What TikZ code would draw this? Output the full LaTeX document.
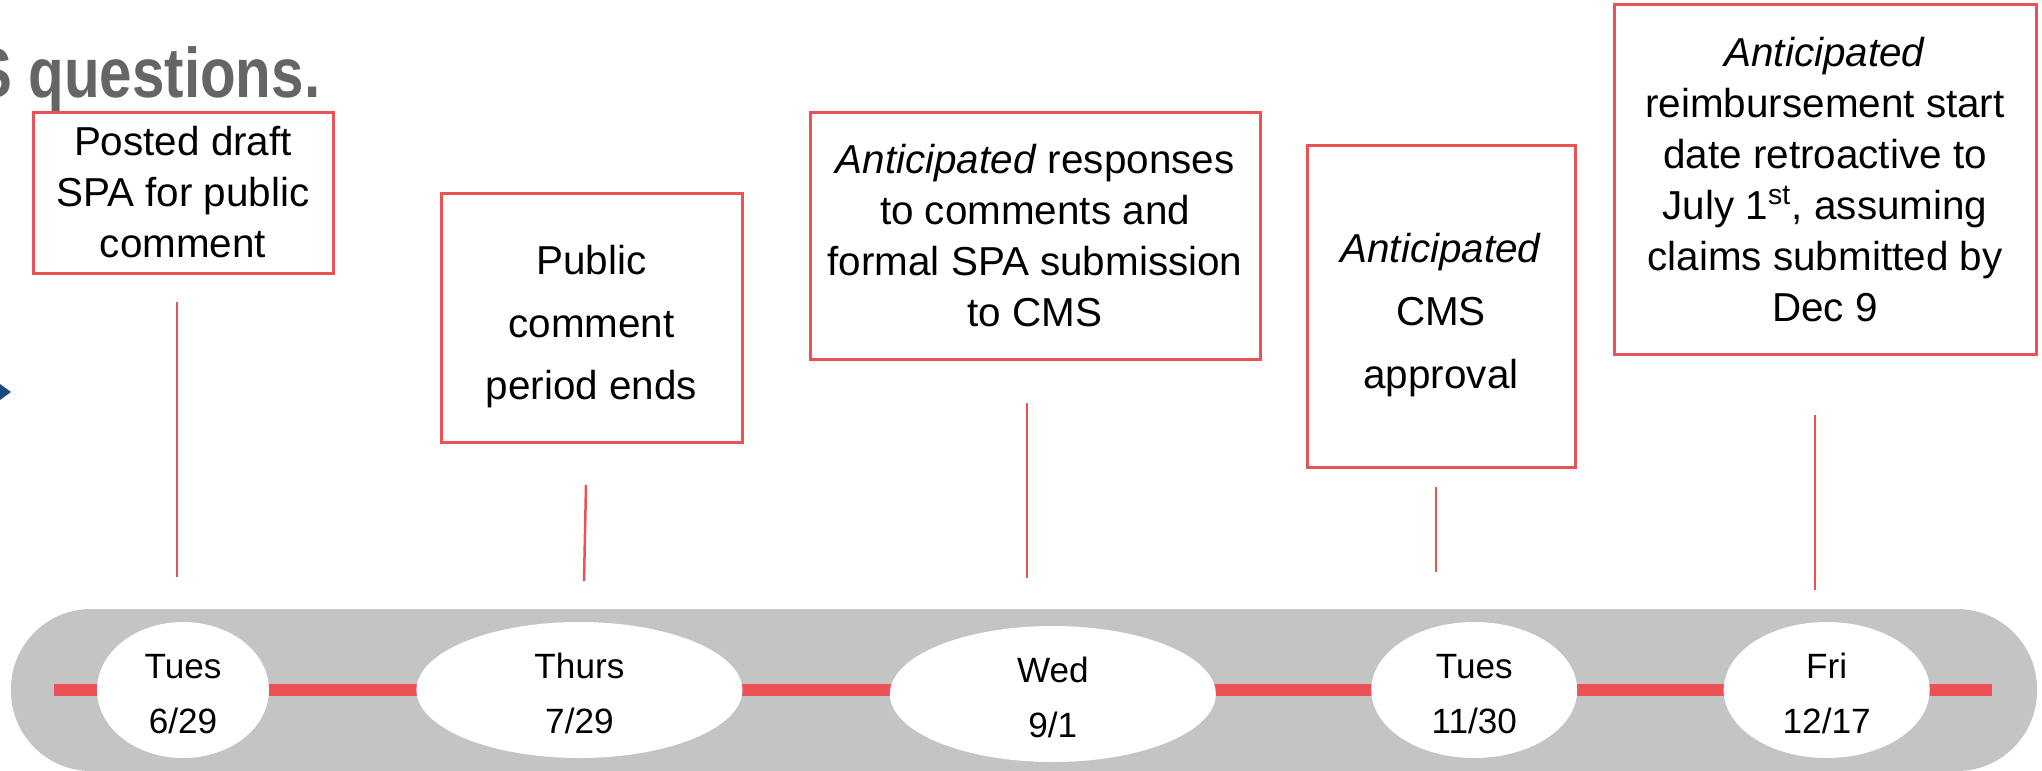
\documentclass[tikz,border=0pt]{standalone}
\usepackage{fontspec}
\setmainfont{Liberation Sans}
\newfontfamily\headfont[FakeStretch=0.83]{Liberation Sans}
\usetikzlibrary{positioning,shapes.geometric}
\definecolor{tlred}{RGB}{234,82,86}
\definecolor{tlgray}{RGB}{196,196,196}
\definecolor{headgray}{RGB}{101,101,101}
\definecolor{arrowblue}{RGB}{31,73,125}
\newcommand{\padtop}[1]{\rule{0pt}{#1}}
\tikzset{date node/.style={ellipse,fill=white,inner sep=0pt,minimum height=1.36cm,align=center,font=\fontsize{10}{15.6}\selectfont},
note node/.style={rectangle,draw=tlred,line width=0.03cm,fill=white,inner sep=0pt,align=center,font=\fontsize{11.5}{14.5}\selectfont},
wide lines/.style={font=\fontsize{11.5}{17.9}\selectfont},
tick line/.style={tlred,line width=0.025cm}}

\begin{document}
\begin{tikzpicture}[scale=1]
            \path[use as bounding box, clip] (0,0) rectangle (20.42,7.70);

            % cut-off heading and arrow tip from the slide
            \node[anchor=base east, inner sep=0pt, text=headgray, font=\headfont\bfseries\fontsize{20}{24}\selectfont] (H) at (3.21,6.73) {S questions.};
            \fill[arrowblue] (0,3.86) -- (0.11,3.78) -- (0,3.70) -- cycle;

            % band and red time line
            \fill[tlgray, rounded corners=0.8cm] (0.11,-0.01) rectangle (20.37,1.61);
            \coordinate (L) at (0.54,0.80);
            \coordinate (R) at (19.92,0.80);
            \draw[tlred, line width=0.12cm] (L) -- (R);

            % dates
            \node[date node, minimum width=1.72cm] (A) at (1.83,0.80) {\padtop{0.33cm}Tues\\6/29};
            \node[date node, minimum width=3.26cm] (B) [right = 1.46cm of A] {\padtop{0.33cm}Thurs\\7/29};
            \node[date node, minimum width=3.26cm] (C) [right = 1.46cm of B, yshift=-0.04cm] {\padtop{0.33cm}Wed\\9/1};
            \node[date node, minimum width=2.06cm] (D) [right = 1.54cm of C, yshift=0.04cm] {\padtop{0.33cm}Tues\\11/30};
            \node[date node, minimum width=2.06cm] (E) [right = 1.45cm of D] {\padtop{0.33cm}Fri\\12/17};

            % notes
            \node[note node, minimum width=3.00cm, minimum height=1.61cm] (An) at (1.83,5.775) {Posted draft\\SPA for public\\comment};
            \node[note node, wide lines, minimum width=3.01cm, minimum height=2.49cm] (Bn) at (5.915,4.525) {\padtop{0.475cm}Public\\comment\\period ends};
            \node[note node, minimum width=4.50cm, minimum height=2.47cm] (Cn) at (10.35,5.345) {\textit{Anticipated} responses\\to comments and\\formal SPA submission\\to CMS};
            \node[note node, wide lines, minimum width=2.68cm, minimum height=3.22cm] (Dn) at (14.41,4.64) {\padtop{0.475cm}\textit{Anticipated}\\CMS\\approval};
            \node[note node, minimum width=4.22cm, minimum height=3.49cm] (En) at (18.25,5.905) {\textit{Anticipated}\\reimbursement start\\date retroactive to\\July 1\textsuperscript{st}, assuming\\claims submitted by\\Dec 9};

            % ticks between notes and dates
            \coordinate (a1) at (1.77,4.68);   \coordinate (a2) at (1.77,1.93);
            \coordinate (b1) at (5.86,2.85);   \coordinate (b2) at (5.84,1.89);
            \coordinate (c1) at (10.27,3.67);  \coordinate (c2) at (10.27,1.92);
            \coordinate (d1) at (14.36,2.83);  \coordinate (d2) at (14.36,1.98);
            \coordinate (e1) at (18.15,3.55);  \coordinate (e2) at (18.15,1.80);

            \path[draw, tick line]
            (a1) edge (a2)
            (b1) edge (b2)
            (c1) edge (c2)
            (d1) edge (d2)
            (e1) edge (e2);
        \end{tikzpicture}
\end{document}
